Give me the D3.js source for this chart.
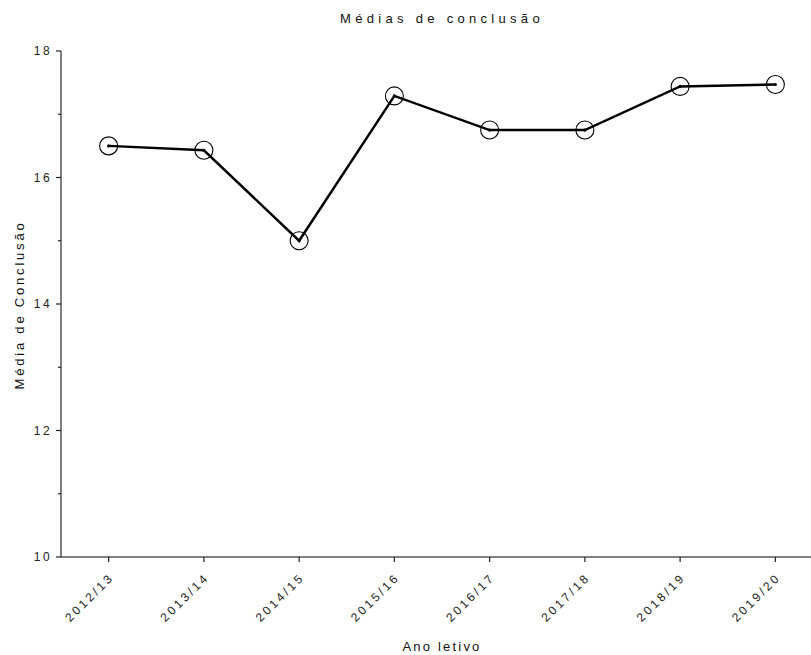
<!DOCTYPE html>
<html><head><meta charset="utf-8">
<script src="https://cdn.jsdelivr.net/npm/d3@7"></script>
<style>
body{margin:0;background:#fff;}
svg{display:block;font-family:"Liberation Sans",Arial,sans-serif;}
</style></head>
<body><svg id="c" width="811" height="655"></svg>
<script>
const categories = ["2012/13","2013/14","2014/15","2015/16","2016/17","2017/18","2018/19","2019/20"];
const values = [16.50, 16.43, 15.00, 17.29, 16.75, 16.75, 17.44, 17.47];
const yTickLabels = [10, 12, 14, 16, 18];
const yMinorTicks = [11, 13, 15, 17];
const chartTitle = "Médias de conclusão";
const xTitle = "Ano letivo";
const yTitle = "Média de Conclusão";

const svg = d3.select("#c");
const mLeft = 61, mRight = 823, mTop = 51, mBottom = 557;
const x = d3.scaleBand().domain(categories).range([mLeft, mRight]);
const y = d3.scaleLinear().domain([10, 18]).range([mBottom, mTop]);
const cx = d => x(d) + x.bandwidth()/2;

// y axis
const gy = svg.append("g").attr("transform", `translate(${mLeft},0)`);
gy.append("line").attr("x1",0).attr("x2",0).attr("y1",y(18)).attr("y2",y(10)).attr("stroke","#555").attr("stroke-width",1.5);
gy.selectAll("line.maj").data(yTickLabels).join("line").attr("class","maj").attr("x1",-5).attr("x2",0)
  .attr("y1",d=>y(d)).attr("y2",d=>y(d)).attr("stroke","#222").attr("stroke-width",1.2);
gy.selectAll("line.min").data(yMinorTicks).join("line").attr("class","min").attr("x1",-3).attr("x2",0)
  .attr("y1",d=>y(d)).attr("y2",d=>y(d)).attr("stroke","#222").attr("stroke-width",1.2);
gy.selectAll("text").data(yTickLabels).join("text").attr("x",-9).attr("y",d=>y(d)).attr("dy","0.35em")
  .attr("text-anchor","end").style("font-size","12px").style("letter-spacing","2.4px").attr("fill","#222").text(d=>d);

// x axis
const gx = svg.append("g").attr("transform", `translate(0,${mBottom})`);
gx.append("line").attr("x1",mLeft).attr("x2",mRight).attr("y1",0).attr("y2",0).attr("stroke","#555").attr("stroke-width",1.5);
gx.selectAll("line.t").data(categories).join("line").attr("class","t").attr("x1",d=>cx(d)).attr("x2",d=>cx(d)).attr("y1",0).attr("y2",5)
  .attr("stroke","#222").attr("stroke-width",1.2);
gx.selectAll("text").data(categories).join("text")
  .attr("transform",d=>`translate(${cx(d)+6},${21}) rotate(-45)`)
  .attr("text-anchor","end").style("font-size","12px").style("letter-spacing","2.8px").attr("fill","#222").text(d=>d);

// line
const line = d3.line().x((d,i)=>cx(categories[i])).y(d=>y(d));
svg.append("path").datum(values).attr("d",line).attr("fill","none").attr("stroke","#000").attr("stroke-width",2.5).attr("stroke-linejoin","miter");
svg.selectAll("circle.pt").data(values).join("circle").attr("class","pt").attr("cx",(d,i)=>cx(categories[i])).attr("cy",d=>y(d)).attr("r",9)
  .attr("fill","none").attr("stroke","#000").attr("stroke-width",1.1);
svg.selectAll("circle.dot").data(values).join("circle").attr("class","dot").attr("cx",(d,i)=>cx(categories[i])).attr("cy",d=>y(d)).attr("r",1.6).attr("fill","#000");

// titles
svg.append("text").attr("x",442).attr("y",23).attr("text-anchor","middle").style("font-size","13px").style("letter-spacing","4.3px").attr("fill","#111").text(chartTitle);
svg.append("text").attr("x",442).attr("y",651).attr("text-anchor","middle").style("font-size","13px").style("letter-spacing","2.2px").attr("fill","#111").text(xTitle);
svg.append("text").attr("transform","translate(24,305) rotate(-90)").attr("text-anchor","middle").style("font-size","13px").style("letter-spacing","2.8px").attr("fill","#111").text(yTitle);
</script></body></html>
